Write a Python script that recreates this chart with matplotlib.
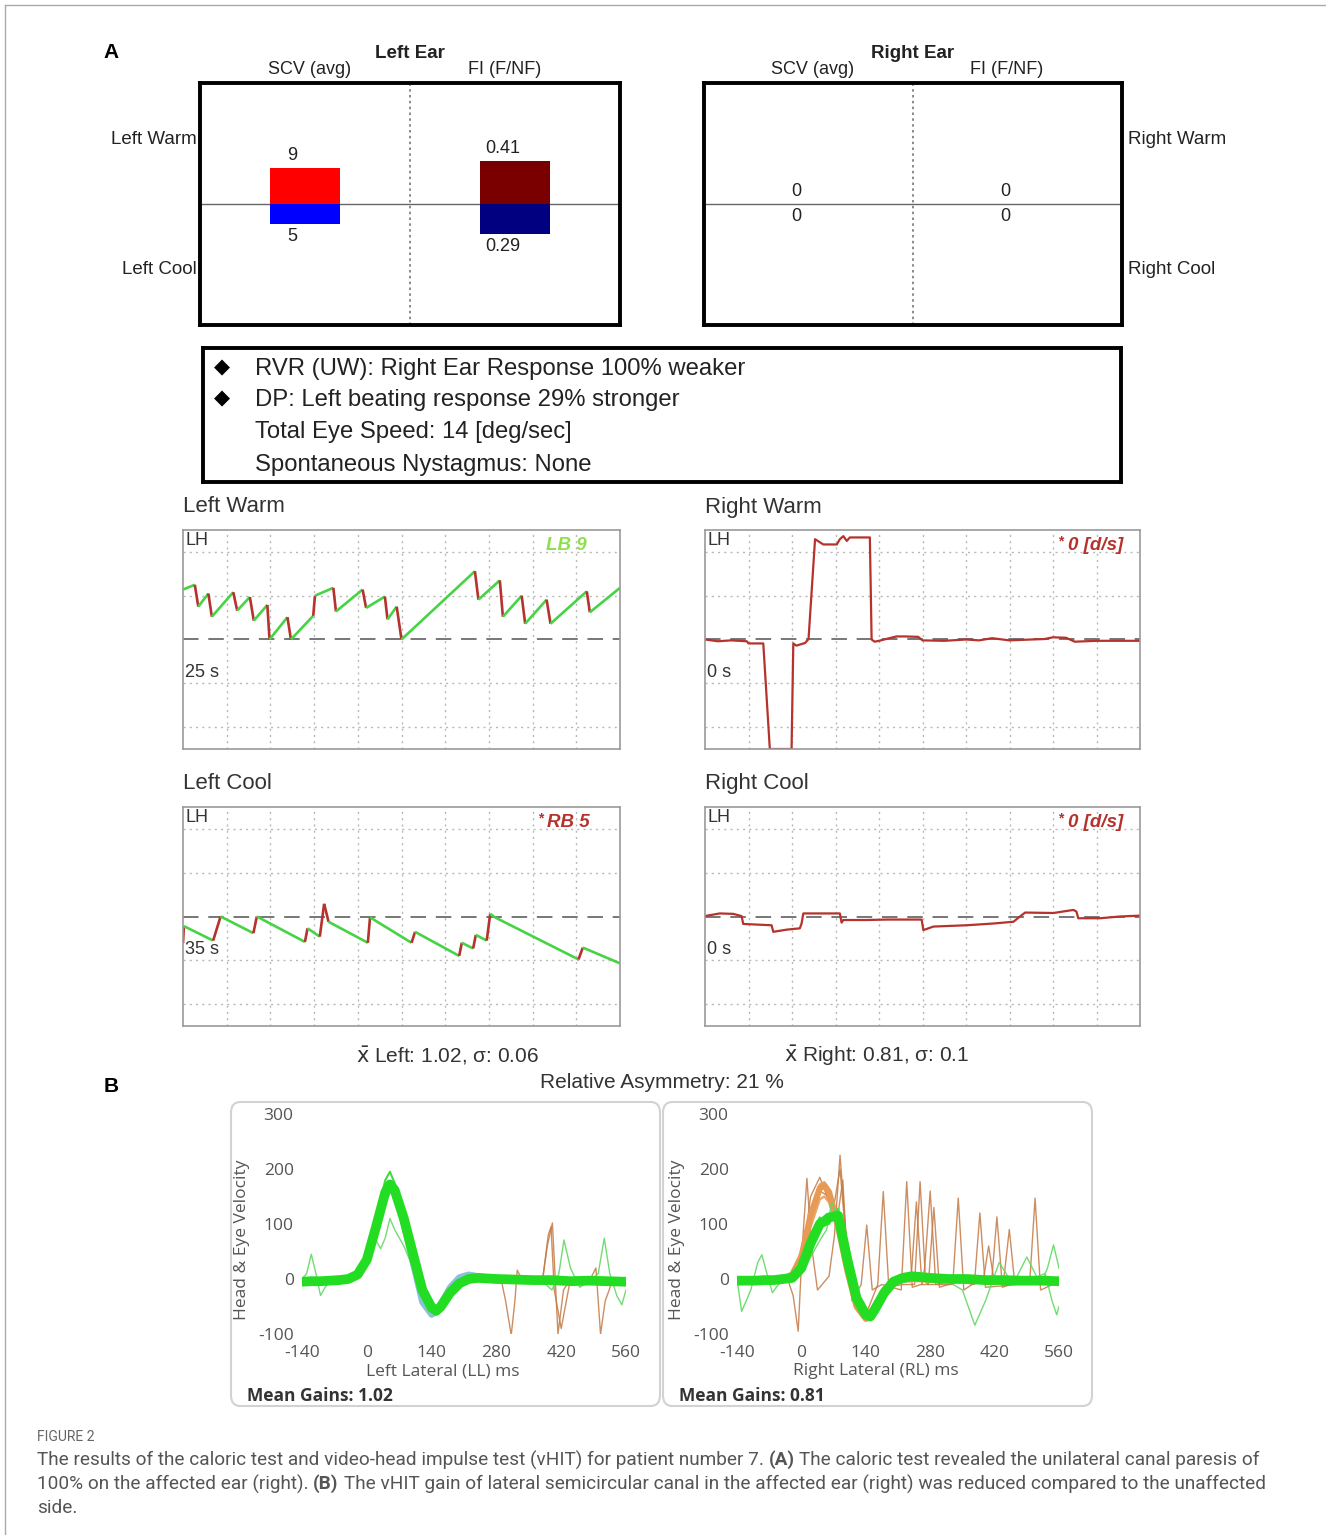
import matplotlib
matplotlib.use("Agg")
import matplotlib.pyplot as plt
from matplotlib.collections import LineCollection
from matplotlib.patches import FancyBboxPatch
from matplotlib.lines import Line2D
import numpy as np

W, H = 1326, 1535
plt.rcParams['font.family'] = ['Liberation Sans', 'DejaVu Sans']
plt.rcParams['axes.unicode_minus'] = False

# ---- caloric summary (A, top) ----
conditions = ["Warm", "Cool"]
scv_left = [9, 5]
fi_left = [0.41, 0.29]
scv_right = [0, 0]
fi_right = [0, 0]

summary_lines = [
    "RVR (UW): Right Ear Response 100% weaker",
    "DP: Left beating response 29% stronger",
    "Total Eye Speed: 14 [deg/sec]",
    "Spontaneous Nystagmus: None",
]
summary_bullets = [True, True, False, False]

# ---- nystagmus traces (grid units: 10 x-divisions, +-2.5 y) ----
LW_T = [0.0, 0.27, 0.35, 0.58, 0.66, 1.15, 1.24, 1.53, 1.62, 1.93, 1.98, 2.39, 2.47, 2.98, 3.02,
        3.44, 3.50, 4.11, 4.19, 4.62, 4.68, 4.89, 5.00, 6.68, 6.76, 7.25, 7.32, 7.75, 7.83, 8.32,
        8.41, 9.24, 9.31, 10.0]
LW_Y = [1.14, 1.25, 0.75, 1.05, 0.52, 1.08, 0.66, 0.97, 0.43, 0.79, 0.0, 0.51, 0.0, 0.54, 1.0,
        1.18, 0.64, 1.14, 0.72, 0.98, 0.46, 0.75, 0.0, 1.56, 0.91, 1.35, 0.52, 1.0, 0.36, 0.91,
        0.36, 1.10, 0.62, 1.18]

LC_T = [0.0, 0.02, 0.69, 0.86, 1.61, 1.69, 2.79, 2.85, 3.13, 3.23, 3.33, 4.23, 4.28, 5.23, 5.31,
        6.32, 6.38, 6.64, 6.70, 6.95, 7.03, 7.14, 9.05, 9.15, 10.0]
LC_Y = [-0.61, -0.22, -0.55, 0.0, -0.38, 0.0, -0.58, -0.27, -0.46, 0.29, -0.12, -0.6, -0.02, -0.6,
        -0.35, -0.9, -0.6, -0.73, -0.42, -0.55, 0.06, -0.02, -0.98, -0.71, -1.07]

RW_T = [0, 0.3, 0.6, 0.96, 1.0, 1.34, 1.49, 1.99, 2.03, 2.1, 2.30, 2.38, 2.53, 2.72, 3.03, 3.10,
        3.18, 3.26, 3.33, 3.79, 3.83, 3.9, 4.0, 4.2, 4.4, 4.6, 4.9, 5.0, 5.5, 6.0, 6.3, 6.6, 7.0,
        7.5, 7.8, 8.0, 8.3, 8.5, 9.0, 9.5, 10.0]
RW_Y = [0, -0.04, -0.02, -0.04, -0.09, -0.09, -2.5, -2.5, -0.09, -0.14, -0.08, 0.01, 2.29, 2.17,
        2.17, 2.29, 2.36, 2.25, 2.33, 2.33, 0, -0.05, -0.03, 0.02, 0.07, 0.07, 0.06, -0.02, -0.03,
        0.0, -0.02, 0.03, -0.02, 0.0, 0.01, 0.05, 0.04, -0.05, -0.03, -0.03, -0.03]

RC_T = [0, 0.34, 0.65, 0.84, 0.88, 1.53, 1.57, 1.88, 2.18, 2.22, 2.26, 3.10, 3.14, 3.18, 3.72,
        4.18, 4.79, 4.98, 5.02, 5.25, 6.01, 6.63, 7.09, 7.24, 7.36, 8.01, 8.47, 8.54, 8.58, 9.08,
        9.54, 10.0]
RC_Y = [0.01, 0.07, 0.06, 0.01, -0.17, -0.2, -0.35, -0.3, -0.27, -0.16, 0.07, 0.07, -0.14, -0.08,
        -0.08, -0.07, -0.07, -0.07, -0.31, -0.23, -0.2, -0.16, -0.12, -0.0, 0.09, 0.08, 0.15, 0.11,
        -0.04, -0.04, 0.0, 0.02]

# ---- vHIT (B) ----
VHIT_T = [-140, -120, -100, -80, -60, -40, -20, 0, 20, 40, 50, 60, 80, 100, 120, 140, 150, 160,
          180, 200, 220, 240, 280, 320, 360, 400, 440, 480, 520, 560]
L_EYE = [-5, -4, -4, -3, -2, 0, 8, 35, 95, 158, 172, 162, 110, 45, -20, -52, -58, -50, -25, -8,
         0, 2, 0, -1, -2, -2, -4, -3, -4, -5]
L_EYE2 = [-8, -6, -5, -4, -2, 2, 12, 45, 110, 180, 195, 175, 115, 40, -30, -58, -62, -52, -28,
          -10, -2, 0, -3, -3, -4, -5, -6, -5, -6, -7]
L_HEAD = [-3, -3, -3, -2, -1, 2, 10, 38, 95, 150, 163, 158, 100, 28, -42, -65, -60, -45, -15, 3,
          8, 5, 0, -1, -1, -2, -2, -2, -3, -3]
L_G_T = [-140, -130, -120, -110, -100, -90, -80, -60, -40, -20, 0, 20, 30, 40, 50, 60, 80, 100,
         120, 140, 160, 200, 260, 300, 340, 380, 400, 415, 426, 440, 460, 480, 500, 513, 525,
         540, 551, 560]
L_G_V = [0, 10, 45, 10, -30, -15, -5, 0, 2, 10, 30, 70, 55, 75, 110, 90, 60, 20, -30, -60, -50,
         -10, 0, -5, 0, -5, -20, 10, 71, 20, -15, -5, 10, 74, 10, -30, -47, -20]
L_B_T = [260, 290, 300, 312, 320, 325, 335, 360, 380, 390, 401, 413, 425, 440, 480, 495,
         505, 515, 530, 560]
L_B_V = [-2, 0, -40, -102, -40, 16, 0, -5, 0, 60, 102, -100, -20, 0, -5, 20, -100, -40, -5, -5]
L_B2_T = [350, 380, 392, 398, 405, 420, 440]
L_B2_V = [0, 0, 80, 95, -20, -90, 0]

R_EYE = [-3, -3, -3, -2, -2, 0, 2, 20, 65, 100, 105, 112, 115, 35, -35, -65, -68, -55, -25, -5,
         2, 5, 2, 0, 0, -2, -2, -3, -3, -4]
R_EYE2 = [-5, -5, -4, -3, -3, -1, 5, 28, 80, 112, 98, 100, 128, 45, -30, -72, -75, -60, -30, -8,
          0, 4, 0, -2, -2, -3, -4, -4, -5, -5]
R_HEAD = [-2, -2, -2, -1, -1, 0, 8, 40, 115, 165, 170, 158, 95, 15, -50, -72, -70, -52, -20, -5,
          2, 0, -1, -1, -2, -2, -2, -3, -3, -3]
R_HEAD2 = [-3, -3, -3, -2, -2, 0, 5, 30, 95, 145, 150, 140, 85, 10, -45, -65, -62, -45, -18, -4,
           1, 0, -1, -2, -2, -2, -3, -3, -4, -4]
R_HEAD3 = [-2, -2, -2, -1, 0, 2, 12, 50, 125, 172, 176, 160, 88, 5, -55, -76, -72, -50, -18, -4,
           1, 0, -1, -1, -2, -2, -3, -3, -3, -4]
R_G_T = [-140, -130, -110, -95, -86, -75, -63, -50, -30, 0, 20, 40, 55, 66, 80, 100, 120, 140,
         160, 200, 260, 320, 350, 377, 400, 430, 460, 490, 520, 535, 548, 560]
R_G_V = [0, -59, -20, 30, 44, 10, -25, -10, 0, 10, 40, 70, 90, 140, 110, 40, -40, -70, -55, -10,
         0, -5, -20, -84, -40, 30, -10, 40, -10, 20, 62, 20]
R_G2_T = [420, 470, 500, 530, 545, 555, 560]
R_G2_V = [0, -5, 0, 10, -40, -65, -50]
R_B1_T = [-140, -30, -18, -7, 2, 12, 22, 35, 60, 72, 84, 96, 110, 130, 142, 154, 175, 217, 229,
          241, 260, 329, 341, 353, 380, 413, 425, 437, 470, 496, 508, 520, 560]
R_B1_V = [-2, 0, -30, -95, 60, 183, 60, -20, 5, 80, 225, 90, -40, -10, 98, -20, -10, -20, 177,
          -15, -10, -10, 147, -20, -5, -10, 113, -15, -5, -10, 147, -20, -5]
R_B2_T = [-140, -20, 0, 20, 40, 60, 72, 84, 98, 120, 140, 166, 178, 190, 220, 246, 258, 270, 276,
          288, 300, 340, 376, 388, 400, 560]
R_B2_V = [-2, 5, 35, 110, 160, 150, 140, 200, 60, -40, -65, -10, 159, -15, -10, -10, 177, -5,
          -10, 130, -15, -5, -10, 120, -15, -4]
R_B3_T = [-140, -20, 0, 20, 40, 60, 80, 90, 100, 120, 140, 160, 200, 238, 250, 262, 268, 280, 292,
          320, 360, 395, 407, 420, 440, 452, 464, 500, 560]
R_B3_V = [-2, 5, 20, 150, 185, 140, 120, 180, 30, -50, -70, -40, -5, -5, 140, -10, 20, 160, -10,
          -5, 0, -5, 60, -10, 0, 90, -10, -5, -3]

VHIT_XTICKS = [-140, 0, 140, 280, 420, 560]
VHIT_YTICKS = [-100, 0, 100, 200, 300]

CAPTION = [
    [("The results of the caloric test and video-head impulse test (vHIT) for patient number 7.", False),
     ("(A)", True), ("The caloric test revealed the unilateral canal paresis of", False)],
    [("100% on the affected ear (right).", False), ("(B)", True),
     ("The vHIT gain of lateral semicircular canal in the affected ear (right) was reduced compared to the unaffected", False)],
    [("side.", False)],
]

fig = plt.figure(figsize=(W / 100, H / 100), dpi=100)
fig.patch.set_facecolor("white")


def box(x0, y0, x1, y1):
    return fig.add_axes([x0 / W, 1 - y1 / H, (x1 - x0) / W, (y1 - y0) / H])


def txt(x, y, s, **kw):
    kw.setdefault("va", "center")
    return fig.text(x / W, 1 - y / H, s, **kw)


def bare(ax):
    ax.set_xticks([])
    ax.set_yticks([])
    for s in ax.spines.values():
        s.set_visible(False)
    ax.patch.set_alpha(0)


# outer frame of the figure
fig.add_artist(Line2D([5 / W, 5 / W], [0, 1 - 5 / H], transform=fig.transFigure, color="#aaaaaa", lw=1))
fig.add_artist(Line2D([5 / W, 1], [1 - 5 / H, 1 - 5 / H], transform=fig.transFigure, color="#aaaaaa", lw=1))

txt(111, 53, "A", ha="center", fontsize=15, fontweight="bold")
txt(111, 1087, "B", ha="center", fontsize=15, fontweight="bold")


def caloric(x0, x1, scv, fi, ear, side, right_labels):
    frame = box(x0, 83, x1, 325)
    frame.set_xlim(0, 1)
    frame.set_ylim(-1, 1)
    frame.set_xticks([])
    frame.set_yticks([])
    for s in frame.spines.values():
        s.set_linewidth(2.8)
    frame.axvline(0.5, color="#777777", ls=(0, (1.5, 2)), lw=1.2)
    frame.axhline(0, color="#666666", lw=1)
    xm = (x0 + x1) / 2
    halves = [(x0, xm, scv, 30.25, ["#ff0000", "#0000ff"]),
              (xm, x1, fi, 1.163, ["#7a0000", "#000080"])]
    for hx0, hx1, vals, lim, cols in halves:
        ax = box(hx0, 83, hx1, 325)
        bare(ax)
        ax.set_xlim(0, 1)
        ax.set_ylim(-lim, lim)
        ax.bar(0.5, vals[0], width=0.335, color=cols[0], lw=0)
        ax.bar(0.5, -vals[1], width=0.335, color=cols[1], lw=0)
        ax.annotate("{:g}".format(vals[0]), (0.44, vals[0]), xytext=(0, 3), textcoords="offset points",
                    ha="center", va="bottom", fontsize=13, color="#222")
        ax.annotate("{:g}".format(vals[1]), (0.44, -vals[1]), xytext=(0, -3), textcoords="offset points",
                    ha="center", va="top", fontsize=13, color="#222")
    txt(xm, 53, ear, ha="center", fontsize=13.5, fontweight="bold", color="#222")
    txt(x0 + 0.52 * (xm - x0), 70, "SCV (avg)", ha="center", fontsize=13, color="#222")
    txt(xm + 0.45 * (x1 - xm), 70, "FI (F/NF)", ha="center", fontsize=13, color="#222")
    lx, ha = (x1 + 6, "left") if right_labels else (x0 - 3, "right")
    txt(lx, 140, side + " " + conditions[0], ha=ha, fontsize=13.5, color="#222")
    txt(lx, 270, side + " " + conditions[1], ha=ha, fontsize=13.5, color="#222")


caloric(200, 620, scv_left, fi_left, "Left Ear", "Left", False)
caloric(704, 1122, scv_right, fi_right, "Right Ear", "Right", True)

# summary box
sb = box(203, 348, 1121, 482)
sb.set_xticks([])
sb.set_yticks([])
for s in sb.spines.values():
    s.set_linewidth(2.8)
for i, (line, bullet) in enumerate(zip(summary_lines, summary_bullets)):
    yy = [369, 400, 432, 465][i]
    if bullet:
        txt(222, yy - 2, "\u25c6", ha="center", fontsize=15, family="DejaVu Sans")
    txt(255, yy, line, ha="left", fontsize=17.2, color="#222")


def trace_panel(x0, y0, width, title, t, y, dur, label, label_color, star, split):
    ax = box(x0, y0, x0 + width, y0 + 219)
    ax.set_xlim(0, 10)
    ax.set_ylim(-2.5, 2.5)
    ax.set_xticks(range(1, 10))
    ax.set_yticks([-2, -1, 1, 2])
    ax.grid(True, color="#b8b8b8", ls=(0, (1.5, 3)), lw=1)
    ax.tick_params(length=0, labelbottom=False, labelleft=False)
    ax.axhline(0, color="#777777", ls=(0, (8, 5)), lw=1.4)
    for s in ax.spines.values():
        s.set_color("#9a9a9a")
        s.set_linewidth(1.2)
    if split:
        pts = np.column_stack([t, y])
        segs = np.stack([pts[:-1], pts[1:]], axis=1)
        slope = np.abs(np.diff(y) / np.diff(t))
        cols = ["#b5322d" if s > 2.5 else "#46d346" for s in slope]
        ax.add_collection(LineCollection(segs, colors=cols, linewidths=1.9))
    else:
        ax.plot(t, y, color="#b5322d", lw=1.6)
    ax.text(0.005, 0.95, "LH", transform=ax.transAxes, ha="left", va="center", fontsize=13, color="#333")
    ax.text(0.005, 0.35, dur, transform=ax.transAxes, ha="left", va="center", fontsize=13, color="#333")
    lab = ax.text(label[1], 0.93, label[0], transform=ax.transAxes, ha="right", va="center",
                  fontsize=13.5, color=label_color, fontweight="bold", fontstyle="italic")
    if star:
        ax.annotate("*", xy=(0, 1), xycoords=lab, xytext=(-3, 2), textcoords="offset points",
                    ha="right", va="top", fontsize=10, color=label_color, fontweight="bold")
    txt(x0, y0 - 23, title, ha="left", fontsize=16, color="#333")


trace_panel(183, 530, 437, "Left Warm", LW_T, LW_Y, "25 s", ("LB 9", 0.924), "#8ee04a", False, True)
trace_panel(705, 530, 435, "Right Warm", RW_T, RW_Y, "0 s", ("0 [d/s]", 0.961), "#b5322d", True, False)
trace_panel(183, 807, 437, "Left Cool", LC_T, LC_Y, "35 s", ("RB 5", 0.931), "#b5322d", True, True)
trace_panel(705, 807, 435, "Right Cool", RC_T, RC_Y, "0 s", ("0 [d/s]", 0.961), "#b5322d", True, False)

txt(447, 1056, r"$\bar{\mathrm{x}}$ Left: 1.02, σ: 0.06", ha="center", fontsize=15, color="#333")
txt(877, 1056, r"$\bar{\mathrm{x}}$ Right: 0.81, σ: 0.1", ha="center", fontsize=15, color="#333")
txt(662, 1083, "Relative Asymmetry: 21 %", ha="center", fontsize=15, color="#333")

vfont = ["Open Sans", "DejaVu Sans"]


def vhit(bx0, bx1, ax0, ax1, xlabel, xlab_x, gain, head_col, heads, eye, eye2, greens, browns):
    fig.patches.append(FancyBboxPatch((bx0 / W, 1 - 1406 / H), (bx1 - bx0) / W, (1406 - 1102) / H,
                                      boxstyle="round,pad=0,rounding_size=0.007", transform=fig.transFigure,
                                      fc="none", ec="#d2d2d2", lw=1.5))
    ax = box(ax0, 1114, ax1, 1334)
    ax.set_xlim(-140, 560)
    ax.set_ylim(-100, 300)
    ax.set_xticks(VHIT_XTICKS)
    ax.set_yticks(VHIT_YTICKS)
    ax.tick_params(length=0, labelsize=12.5, labelcolor="#555555")
    ax.tick_params(axis="x", pad=8)
    ax.tick_params(axis="y", pad=6)
    for lbl in ax.get_xticklabels() + ax.get_yticklabels():
        lbl.set_family(vfont)
    for s in ax.spines.values():
        s.set_visible(False)
    ax.patch.set_alpha(0)
    for bt, bv in browns:
        ax.plot(bt, bv, color="#c47a45", lw=1, alpha=0.85)
    for i, hv in enumerate(heads):
        ax.plot(VHIT_T, hv, color=head_col, lw=4.5 if i == 0 else 1.8, alpha=1 if i == 0 else 0.85)
    for gt, gv in greens:
        ax.plot(gt, gv, color="#62d962", lw=1, alpha=0.9)
    ax.plot(VHIT_T, eye2, color="#3fdc3f", lw=1.5)
    ax.plot(VHIT_T, eye, color="#22dd22", lw=7)
    txt(ax0 - 60, 1240, "Head & Eye Velocity", ha="center", rotation=90, fontsize=12.5,
        color="#555555", family=vfont)
    txt(xlab_x, 1371, xlabel, ha="center", fontsize=12.5, color="#555555", family=vfont)
    txt(bx0 + 16, 1396, "Mean Gains: " + gain, ha="left", fontsize=12.5, color="#333333",
        fontweight="bold", family=vfont)


vhit(231, 660, 302, 626, "Left Lateral (LL) ms", 443, "1.02", "#8cbfe0", [L_HEAD], L_EYE, L_EYE2,
     [(L_G_T, L_G_V)], [(L_B_T, L_B_V), (L_B2_T, L_B2_V)])
vhit(663, 1092, 737, 1059, "Right Lateral (RL) ms", 876, "0.81", "#e89a55", [R_HEAD, R_HEAD2, R_HEAD3],
     R_EYE, R_EYE2, [(R_G_T, R_G_V), (R_G2_T, R_G2_V)],
     [(R_B1_T, R_B1_V), (R_B2_T, R_B2_V), (R_B3_T, R_B3_V)])

# caption
cap_font = ["Roboto", "DejaVu Sans"]
cap_size = 13.7
txt(37, 1437, "FIGURE 2", ha="left", fontsize=10, color="#666666", family=cap_font)
renderer = fig.canvas.get_renderer()
probe1 = txt(0, -50, "a a", fontsize=cap_size, family=cap_font)
probe2 = txt(0, -50, "aa", fontsize=cap_size, family=cap_font)
space_w = probe1.get_window_extent(renderer).width - probe2.get_window_extent(renderer).width
probe1.remove()
probe2.remove()
for row, parts in enumerate(CAPTION):
    x = 37
    for s, bold in parts:
        t = txt(x, 1460 + 24 * row, s, ha="left", fontsize=cap_size, color="#555555", family=cap_font,
                fontweight="bold" if bold else "normal")
        x += t.get_window_extent(renderer).width + space_w

fig.savefig("out.png", dpi=100, facecolor="white")
